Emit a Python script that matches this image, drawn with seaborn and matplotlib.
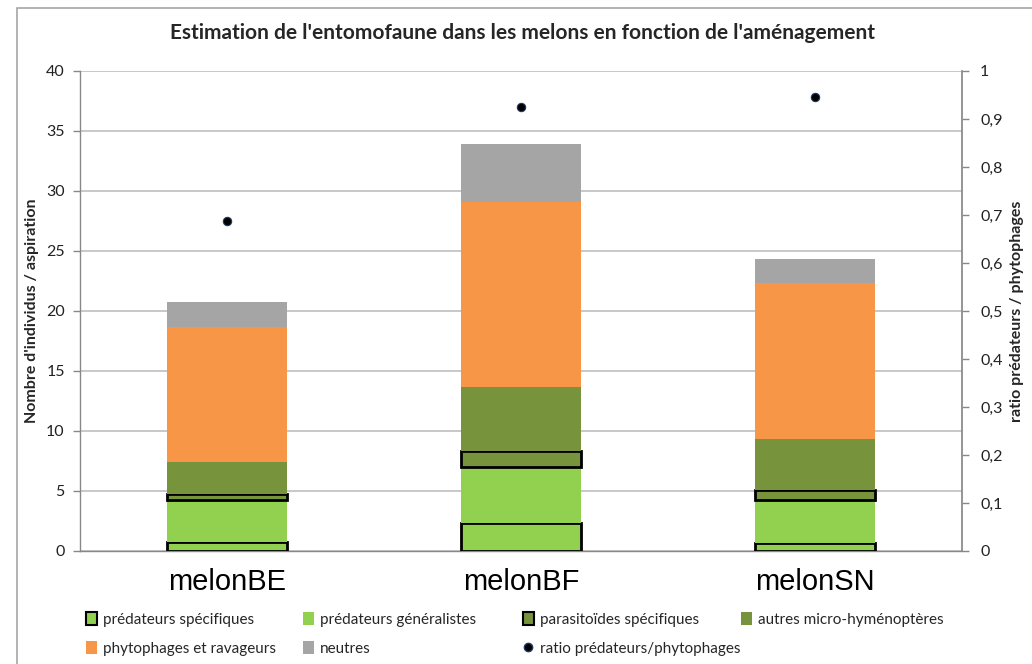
import numpy as np
import matplotlib
matplotlib.use("Agg")
import matplotlib.pyplot as plt
from matplotlib.patches import Patch, Rectangle
from matplotlib.lines import Line2D
import seaborn as sns

# ---- data ----
categories = ["melonBE", "melonBF", "melonSN"]
predateurs_specifiques = [0.75, 2.3, 0.65]
predateurs_generalistes = [3.5, 4.7, 3.6]
parasitoides_specifiques = [0.5, 1.33, 0.85]
autres_micro_hymenopteres = [2.7, 5.37, 4.26]
phytophages_ravageurs = [11.25, 15.38, 12.97]
neutres = [2.05, 4.82, 1.97]
ratio_pred_phyto = [0.6875, 0.925, 0.945]

series_names = ["prédateurs spécifiques", "prédateurs généralistes",
                "parasitoïdes spécifiques", "autres micro-hyménoptères",
                "phytophages et ravageurs", "neutres"]
series_values = [predateurs_specifiques, predateurs_generalistes,
                 parasitoides_specifiques, autres_micro_hymenopteres,
                 phytophages_ravageurs, neutres]
y_ticks_left = [0, 5, 10, 15, 20, 25, 30, 35, 40]
y_ticks_right = [0, 0.1, 0.2, 0.3, 0.4, 0.5, 0.6, 0.7, 0.8, 0.9, 1]

# ---- style ----
sns.set_theme(style="white")
plt.rcParams["font.family"] = ["Lato", "DejaVu Sans"]

colors = ["#92D050", "#92D050", "#77933C", "#77933C", "#F79646", "#A5A5A5"]
edges = ["black", None, "black", None, None, None]

fig = plt.figure(figsize=(10.32, 6.64), dpi=100)
ax = fig.add_axes([80 / 1032, 1 - 551 / 664, 882 / 1032, 480 / 664])

bottom = np.zeros(len(categories))
for name, vals, col, ec in zip(series_names, series_values, colors, edges):
    kw = dict(edgecolor=ec, linewidth=2.0) if ec else dict(linewidth=0)
    sns.barplot(x=categories, y=vals, bottom=bottom, color=col, width=0.405,
                errorbar=None, ax=ax, saturation=1, zorder=3, **kw)
    bottom = bottom + np.array(vals)

ax.set_xlim(-0.5, 2.5)
ax.set_ylim(0, 40)
ax.set_yticks(y_ticks_left)
ax.set_yticklabels([str(t) for t in y_ticks_left], fontsize=11.5, color="#222222")
ax.yaxis.grid(True, color="#BFBFBF", linewidth=1.2, zorder=0)
ax.set_axisbelow(True)
ax.tick_params(axis="y", which="both", left=True, length=5, width=1,
               color="#888888", pad=6)
ax.tick_params(axis="x", bottom=False, pad=6)
for lbl in ax.get_xticklabels():
    lbl.set_fontfamily(["Liberation Sans", "DejaVu Sans"])
    lbl.set_fontsize(21)
    lbl.set_color("black")
for s in ["top", "right"]:
    ax.spines[s].set_visible(False)
for s in ["left", "bottom"]:
    ax.spines[s].set_color("#888888")
    ax.spines[s].set_linewidth(1)
ax.set_xlabel("")
ax.set_ylabel("Nombre d'individus / aspiration", fontsize=11.5, fontweight="bold",
              labelpad=5)

ax2 = ax.twinx()
sns.pointplot(x=categories, y=ratio_pred_phyto, ax=ax2, color="black",
              linestyle="none", markers="o", markersize=6,
              markeredgecolor="#1F3864", markeredgewidth=0.8, zorder=5)
ax2.set_xlim(-0.5, 2.5)
ax2.set_ylim(0, 1)
ax2.set_yticks(y_ticks_right)
ax2.set_yticklabels([("%g" % t).replace(".", ",") for t in y_ticks_right],
                    fontsize=11.5, color="#222222")
ax2.tick_params(axis="y", right=True, length=5, width=1, color="#888888", pad=8)
for s in ["top", "left", "bottom"]:
    ax2.spines[s].set_visible(False)
ax2.spines["right"].set_color("#888888")
ax2.set_ylabel("ratio prédateurs / phytophages", fontsize=11.5, fontweight="bold",
               labelpad=5)
ax2.grid(False)

fig.text(522 / 1032, 1 - 33 / 664,
         "Estimation de l'entomofaune dans les melons en fonction de l'aménagement",
         ha="center", va="center", fontsize=15, fontweight="bold")

handles = [
    Patch(facecolor=colors[0], edgecolor="black", linewidth=1.5),
    Patch(facecolor=colors[1], edgecolor="none"),
    Patch(facecolor=colors[2], edgecolor="black", linewidth=1.5),
    Patch(facecolor=colors[3], edgecolor="none"),
    Patch(facecolor=colors[4], edgecolor="none"),
    Patch(facecolor=colors[5], edgecolor="none"),
    Line2D([], [], marker="o", color="black", linestyle="none", markersize=6,
           markeredgecolor="#1F3864"),
]
labels = series_names + ["ratio prédateurs/phytophages"]
columns = [[0, 4], [1, 5], [2, 6], [3]]
col_x = [86, 303, 523, 741]
for idxs, x in zip(columns, col_x):
    fig.legend([handles[i] for i in idxs], [labels[i] for i in idxs],
               loc="upper left", bbox_to_anchor=(x / 1032, 1 - 612 / 664),
               frameon=False, fontsize=11, handlelength=0.7, handleheight=0.9,
               handletextpad=0.4, labelspacing=0.95, borderpad=0,
               borderaxespad=0)

fig.patches.append(Rectangle((17 / 1032, -0.01), 1.1, 1 - 8 / 664 + 0.01,
                             transform=fig.transFigure, fill=False,
                             edgecolor="#A6A6A6", linewidth=1.2))

fig.savefig("out.png", dpi=100)
